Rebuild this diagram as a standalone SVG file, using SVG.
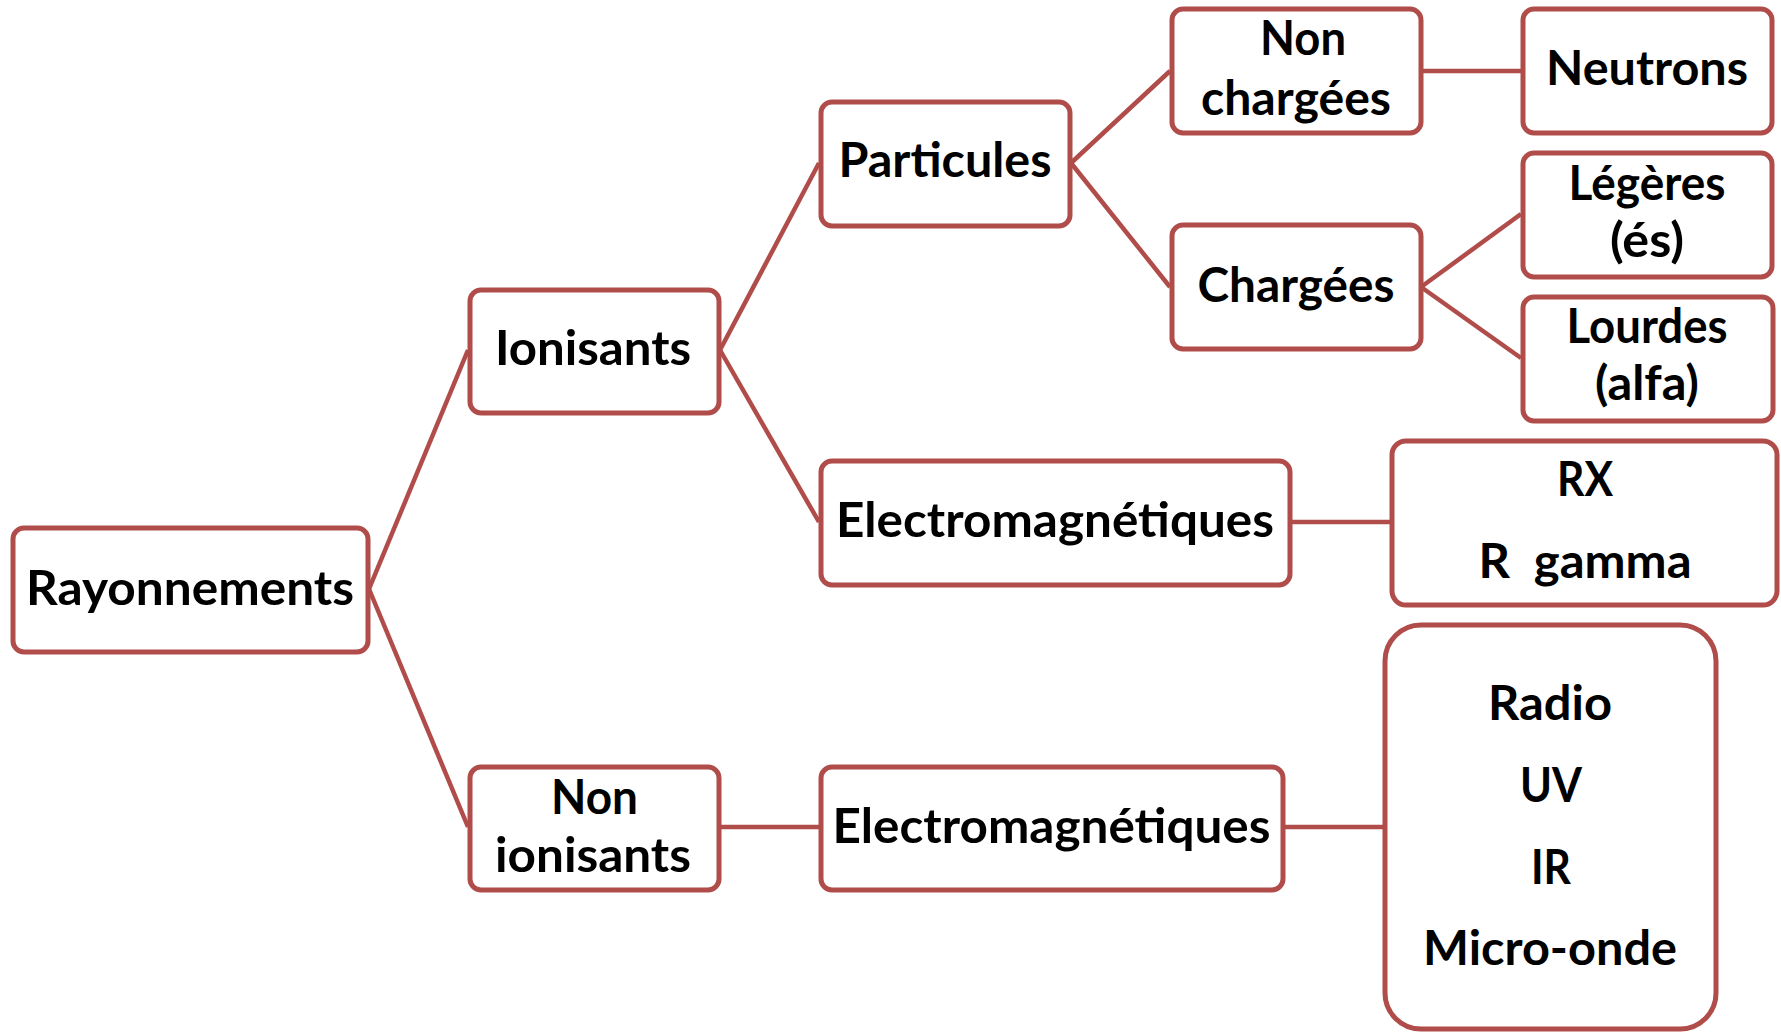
<svg xmlns="http://www.w3.org/2000/svg" width="1781" height="1033" viewBox="0 0 1781 1033">
<style>
.box{fill:#fff;stroke:#B04C4A;stroke-width:5}
.conn line{stroke:#B04C4A;stroke-width:4.5}
text{font-family:Lato,"Liberation Sans",sans-serif;font-weight:bold;font-size:47px;fill:#000;text-anchor:middle;white-space:pre}
</style>
<rect width="1781" height="1033" fill="#fff"/>
<g id="connectors" class="conn">
<line x1="369" y1="589" x2="468" y2="350"/>
<line x1="369" y1="589" x2="468" y2="827"/>
<line x1="720" y1="350" x2="819" y2="163"/>
<line x1="720" y1="350" x2="819" y2="522"/>
<line x1="1071" y1="163" x2="1170" y2="71"/>
<line x1="1071" y1="163" x2="1170" y2="287"/>
<line x1="1421" y1="71" x2="1521" y2="71"/>
<line x1="1421" y1="287" x2="1521" y2="214"/>
<line x1="1421" y1="287" x2="1521" y2="358"/>
<line x1="1291" y1="522" x2="1391" y2="522"/>
<line x1="720" y1="827" x2="819" y2="827"/>
<line x1="1283" y1="827" x2="1383" y2="827"/>
</g>
<g id="rayonnements"><rect class="box" x="13" y="528" width="355" height="124" rx="11"/><text x="190" y="605" textLength="328" lengthAdjust="spacingAndGlyphs">Rayonnements</text></g>
<g id="ionisants"><rect class="box" x="470" y="290" width="249" height="123" rx="11"/><text x="593" y="365" textLength="196" lengthAdjust="spacingAndGlyphs">Ionisants</text></g>
<g id="non-ionisants"><rect class="box" x="470" y="767" width="249" height="123" rx="11"/><text x="594.5" y="814" textLength="87" lengthAdjust="spacingAndGlyphs">Non</text><text x="593" y="872" textLength="196" lengthAdjust="spacingAndGlyphs">ionisants</text></g>
<g id="particules"><rect class="box" x="821" y="102" width="249" height="124" rx="11"/><text x="945" y="177" textLength="213" lengthAdjust="spacingAndGlyphs">Particules</text></g>
<g id="non-chargees"><rect class="box" x="1172" y="9" width="249" height="124" rx="11"/><text x="1303" y="55" textLength="86" lengthAdjust="spacingAndGlyphs">Non</text><text x="1296" y="115" textLength="190" lengthAdjust="spacingAndGlyphs">chargées</text></g>
<g id="neutrons"><rect class="box" x="1523" y="9" width="249" height="124" rx="11"/><text x="1647" y="85" textLength="202" lengthAdjust="spacingAndGlyphs">Neutrons</text></g>
<g id="chargees"><rect class="box" x="1172" y="225" width="249" height="124" rx="11"/><text x="1296" y="302" textLength="197" lengthAdjust="spacingAndGlyphs">Chargées</text></g>
<g id="legeres"><rect class="box" x="1523" y="153" width="249" height="124" rx="11"/><text x="1647" y="200" textLength="157" lengthAdjust="spacingAndGlyphs">Légères</text><text x="1647" y="257" textLength="74" lengthAdjust="spacingAndGlyphs">(és)</text></g>
<g id="lourdes"><rect class="box" x="1523" y="297" width="250" height="124" rx="11"/><text x="1647" y="343" textLength="161" lengthAdjust="spacingAndGlyphs">Lourdes</text><text x="1647" y="400" textLength="104" lengthAdjust="spacingAndGlyphs">(alfa)</text></g>
<g id="electromagnetiques-1"><rect class="box" x="821" y="461" width="469" height="124" rx="11"/><text x="1055" y="537" textLength="438" lengthAdjust="spacingAndGlyphs">Electromagnétiques</text></g>
<g id="rx-gamma"><rect class="box" x="1392" y="441" width="385" height="164" rx="14"/><text x="1585" y="496" textLength="56" lengthAdjust="spacingAndGlyphs">RX</text><text x="1585" y="578" textLength="213" lengthAdjust="spacingAndGlyphs">R  gamma</text></g>
<g id="electromagnetiques-2"><rect class="box" x="821" y="767" width="462" height="123" rx="11"/><text x="1051.5" y="843" textLength="438" lengthAdjust="spacingAndGlyphs">Electromagnétiques</text></g>
<g id="radio-uv-ir"><rect class="box" x="1385" y="625" width="331" height="404" rx="36"/><text x="1550" y="720" textLength="124" lengthAdjust="spacingAndGlyphs">Radio</text><text x="1551" y="802" textLength="62" lengthAdjust="spacingAndGlyphs">UV</text><text x="1551" y="884" textLength="40" lengthAdjust="spacingAndGlyphs">IR</text><text x="1550" y="965" textLength="254" lengthAdjust="spacingAndGlyphs">Micro-onde</text></g>
</svg>
